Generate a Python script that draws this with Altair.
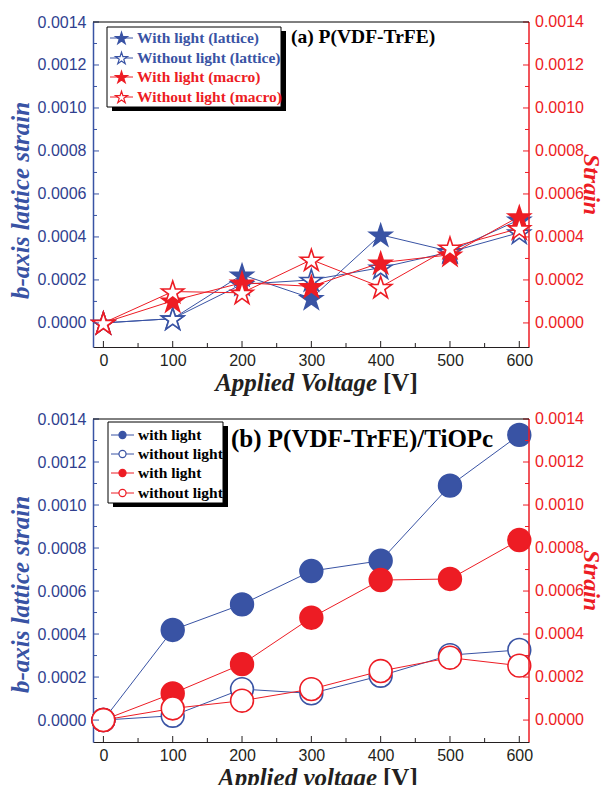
import altair as alt
import pandas as pd

# ---------------- data ----------------
voltage = [0, 100, 200, 300, 400, 500, 600]

# panel (a) P(VDF-TrFE)
a_lat_light = [0.0, 0.00002, 0.000224, 0.000115, 0.00041, 0.000333, 0.00048]
a_lat_dark = [0.0, 0.00002, 0.00018, 0.0002, 0.000257, 0.00033, 0.00042]
a_mac_light = [0.0, 0.000103, 0.000187, 0.00017, 0.00028, 0.000317, 0.000495]
a_mac_dark = [0.0, 0.000146, 0.00014, 0.000294, 0.000167, 0.00035, 0.00044]

# panel (b) P(VDF-TrFE)/TiOPc
b_lat_light = [0.0, 0.000419, 0.000538, 0.000693, 0.000741, 0.00109, 0.001326]
b_lat_dark = [0.0, 0.00002, 0.000144, 0.000124, 0.000206, 0.000302, 0.000326]
b_mac_light = [0.0, 0.000124, 0.00026, 0.000476, 0.000651, 0.000656, 0.000837]
b_mac_dark = [0.0, 0.000054, 0.00009, 0.000144, 0.000228, 0.00029, 0.000253]

legend_a = ["With light (lattice)", "Without light (lattice)",
            "With light (macro)", "Without light (macro)"]
legend_b = ["with light", "without light", "with light", "without light"]

title_a = "(a) P(VDF-TrFE)"
title_b = "(b) P(VDF-TrFE)/TiOPc"

x_ticks = [0, 100, 200, 300, 400, 500, 600]
x_minor = [50, 150, 250, 350, 450, 550]
y_ticks = [0.0, 0.0002, 0.0004, 0.0006, 0.0008, 0.0010, 0.0012, 0.0014]
y_minor = [0.0001, 0.0003, 0.0005, 0.0007, 0.0009, 0.0011, 0.0013]

# ---------------- styles ----------------
BLUE = "#3953a4"
NAVY = "#303f8f"
RED = "#ed1c24"
DARK = "#231f20"
SERIF = "Liberation Serif"
SANS = "Liberation Sans"
W = 436
XDOM = [-15, 614]
# five-pointed star as a custom symbol path in the [-1, 1] box
STAR = ("M0,-0.905L0.2245,-0.2135L0.9511,-0.2135L0.3633,0.2135L0.5878,0.905"
        "L0,0.4775L-0.5878,0.905L-0.3633,0.2135L-0.9511,-0.2135L-0.2245,-0.2135Z")

X_AXIS = alt.Axis(values=x_ticks, labelFont=SANS, labelFontSize=16,
                  labelColor=DARK, domainColor=DARK, domainWidth=1,
                  ticks=False, labelPadding=5, grid=False, title=None, orient="bottom")


def xenc():
    return alt.X("x:Q", scale=alt.Scale(domain=XDOM, nice=False, zero=False), axis=X_AXIS)


def one():
    return pd.DataFrame({"k": [1]})


def panel(series, ydom, H, legend_labels, legend_text_colors,
          box, rows, title, title_xy, title_size, xtitle, left_title_y,
          shape, size, leg_size):
    ysc = alt.Scale(domain=ydom, nice=False, zero=False)
    left_axis = alt.Axis(orient="left", values=y_ticks, format=".4f", labelFont=SANS,
                         labelFontSize=16, labelColor=NAVY, domainColor=BLUE,
                         domainWidth=1.5, ticks=False, labelPadding=7, grid=False,
                         title="b-axis lattice strain", titleFont=SERIF, titleFontSize=25,
                         titleFontStyle="italic", titleFontWeight="bold", titleColor=BLUE,
                         titlePadding=4, titleY=left_title_y)

    def yenc():
        return alt.Y("v:Q", scale=ysc, axis=left_axis)

    layers = []
    # series
    for i, (vals, color, filled) in enumerate(series):
        df = pd.DataFrame({"x": voltage, "v": vals})
        layers.append(alt.Chart(df).mark_line(color=color, strokeWidth=1).encode(
            x=xenc(), y=yenc()))
        layers.append(alt.Chart(df).mark_point(
            shape=shape, size=size, filled=True, opacity=1,
            fill=color if filled else "white", stroke=color, strokeWidth=1.6).encode(
            x=xenc(), y=yenc()))
    # inward ticks on x axis
    layers.append(alt.Chart(pd.DataFrame({"x": x_ticks})).mark_rule(color=DARK, strokeWidth=1).encode(
        x=xenc(), y=alt.value(H), y2=alt.value(H - 6)))
    layers.append(alt.Chart(pd.DataFrame({"x": x_minor})).mark_rule(color=DARK, strokeWidth=1).encode(
        x=xenc(), y=alt.value(H), y2=alt.value(H - 4)))
    # inward ticks on y axes
    for vals, ln in ((y_ticks, 6), (y_minor, 4)):
        df = pd.DataFrame({"v": vals})
        layers.append(alt.Chart(df).mark_rule(color=BLUE, strokeWidth=1).encode(
            y=yenc(), x=alt.value(0), x2=alt.value(ln)))
        layers.append(alt.Chart(df).mark_rule(color=RED, strokeWidth=1).encode(
            y=yenc(), x=alt.value(W - ln), x2=alt.value(W)))
    # right axis (Strain): domain line, labels, title
    layers.append(alt.Chart(one()).mark_rule(color=RED, strokeWidth=1.5).encode(
        x=alt.value(W), y=alt.value(0), y2=alt.value(H)))
    layers.append(alt.Chart(pd.DataFrame({"v": y_ticks})).mark_text(
        align="left", baseline="middle", font=SANS, fontSize=16, color=RED).encode(
        y=yenc(), x=alt.value(W + 6), text=alt.Text("v:Q", format=".4f")))
    layers.append(alt.Chart(one()).mark_text(
        text="Strain", angle=90, align="center", baseline="middle", font=SERIF,
        fontSize=24, fontWeight="bold", fontStyle="italic", color=RED).encode(
        x=alt.value(W + 62), y=alt.value(H / 2)))
    # top frame
    layers.append(alt.Chart(one()).mark_rule(color="black", strokeWidth=1).encode(
        x=alt.value(0), x2=alt.value(W), y=alt.value(0)))
    # legend box with shadow
    bx0, by0, bx1, by1 = box
    layers.append(alt.Chart(one()).mark_rect(fill="black").encode(
        x=alt.value(bx0 + 5), x2=alt.value(bx1 + 5),
        y=alt.value(by0 + 4), y2=alt.value(by1 + 4)))
    layers.append(alt.Chart(one()).mark_rect(fill="white", stroke="black", strokeWidth=1).encode(
        x=alt.value(bx0), x2=alt.value(bx1), y=alt.value(by0), y2=alt.value(by1)))
    for j, lab in enumerate(legend_labels):
        color = series[j][1]
        filled = series[j][2]
        yy = rows[j]
        layers.append(alt.Chart(one()).mark_rule(color=color, strokeWidth=1).encode(
            x=alt.value(bx0 + 3), x2=alt.value(bx0 + 26), y=alt.value(yy)))
        layers.append(alt.Chart(one()).mark_point(
            shape=shape, size=leg_size, filled=True, opacity=1,
            fill=color if filled else "white", stroke=color, strokeWidth=1.2).encode(
            x=alt.value(bx0 + 14.5), y=alt.value(yy)))
        layers.append(alt.Chart(one()).mark_text(
            text=lab, align="left", baseline="middle", font=SERIF, fontSize=15.5,
            fontWeight="bold", color=legend_text_colors[j]).encode(
            x=alt.value(bx0 + 30), y=alt.value(yy)))
    # panel title
    layers.append(alt.Chart(one()).mark_text(
        text=title, align="left", baseline="alphabetic", font=SERIF, fontSize=title_size,
        fontWeight="bold", color="black").encode(
        x=alt.value(title_xy[0]), y=alt.value(title_xy[1])))
    # x-axis title
    layers.append(alt.Chart(one()).mark_text(
        text=xtitle, align="right", baseline="alphabetic", font=SERIF, fontSize=25,
        fontWeight="bold", fontStyle="italic", color=DARK).encode(
        x=alt.value(284), y=alt.value(H + 44)))
    layers.append(alt.Chart(one()).mark_text(
        text="[V]", align="left", baseline="alphabetic", font=SERIF, fontSize=25,
        fontWeight="bold", color=DARK).encode(
        x=alt.value(290), y=alt.value(H + 44)))
    return alt.layer(*layers).properties(width=W, height=H)


series_a = [(a_lat_light, BLUE, True), (a_lat_dark, BLUE, False),
            (a_mac_light, RED, True), (a_mac_dark, RED, False)]
series_b = [(b_lat_light, BLUE, True), (b_lat_dark, BLUE, False),
            (b_mac_light, RED, True), (b_mac_dark, RED, False)]

top = panel(series_a, [-0.000112, 0.0014], 325, legend_a,
            [BLUE, BLUE, RED, RED],
            (14, 5, 188, 85), [16, 36, 55, 75], title_a, (198, 21), 19.5,
            "Applied Voltage", 178, STAR, 540, 160)
bottom = panel(series_b, [-0.000102, 0.0014], 323, legend_b,
               ["black"] * 4,
               (15, 3, 130, 84), [16, 35, 54, 74], title_b, (138, 28), 25,
               "Applied voltage", 175, "circle", 520, 50)

chart = alt.vconcat(top, bottom, spacing=15).properties(
    padding={"left": 0, "top": 6, "right": 0, "bottom": 0}
).configure_view(stroke=None)

chart.save("out.html", embed_options={"renderer": "svg", "actions": False})
